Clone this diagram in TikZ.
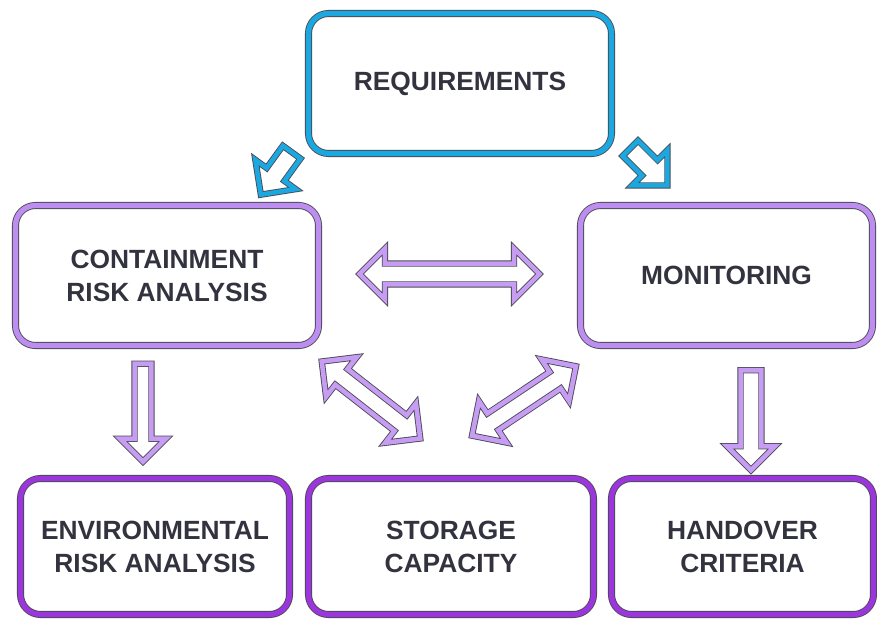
\documentclass[tikz,border=0pt]{standalone}
\usepackage{fontspec}
\setmainfont{Liberation Sans}
\usetikzlibrary{shapes.arrows}

\definecolor{reqblue}{HTML}{1BA8E0}
\definecolor{lilac}{HTML}{BD8DEF}
\definecolor{arrowlilac}{HTML}{C69DF2}
\definecolor{deepviolet}{HTML}{9B35DC}
\definecolor{rim}{HTML}{4A4A55}
\definecolor{ink}{HTML}{33333F}

\begin{document}
\begin{tikzpicture}[
    stage/.style={draw=rim, line width=0.5pt, double distance=3pt,
      rounded corners=0.4cm, align=center, text=ink,
      font=\bfseries\fontsize{15}{18.8}\selectfont},
    onearrow/.style={single arrow, draw=rim, line width=0.5pt,
      double=arrowlilac, double distance=2.6pt, inner xsep=0pt,
      inner ysep=0.2cm, single arrow head extend=0.28cm},
    twoarrow/.style={double arrow, draw=rim, line width=0.5pt,
      double=arrowlilac, double distance=2.6pt, inner xsep=0pt,
      inner ysep=0.2cm, double arrow head extend=0.3cm}
  ]
  \useasboundingbox (0,0) rectangle (17.54,12.38);

  % boxes
  \node[stage, double=reqblue, minimum width=6.06cm, minimum height=2.8cm]
    (req) at (9.2,10.71) {REQUIREMENTS};
  \node[stage, double=lilac, minimum width=6.06cm, minimum height=2.8cm]
    (cra) at (3.34,6.87) {CONTAINMENT\\RISK ANALYSIS};
  \node[stage, double=lilac, minimum width=5.84cm, minimum height=2.8cm]
    (mon) at (14.53,6.87) {MONITORING};
  \node[stage, double=deepviolet, minimum width=5.38cm, minimum height=2.72cm]
    (era) at (3.1,1.45) {ENVIRONMENTAL\\RISK ANALYSIS};
  \node[stage, double=deepviolet, minimum width=5.7cm, minimum height=2.72cm]
    (sto) at (9.02,1.45) {STORAGE\\CAPACITY};
  \node[stage, double=deepviolet, minimum width=5.24cm, minimum height=2.72cm]
    (hnd) at (14.85,1.45) {HANDOVER\\CRITERIA};

  % arrows
  \node[onearrow, double=reqblue, inner ysep=0.21cm, minimum height=1.05cm,
    rotate=-126] (reqcra) at (5.59,9.0) {};
  \node[onearrow, double=reqblue, inner ysep=0.21cm, minimum height=1.05cm,
    rotate=-45] (reqmon) at (12.9,9.12) {};
  \node[twoarrow, minimum height=3.6cm] (cramon) at (8.99,6.9) {};
  \node[twoarrow, inner ysep=0.19cm, minimum height=2.5cm, rotate=-38]
    (crasto) at (7.42,4.38) {};
  \node[twoarrow, inner ysep=0.19cm, minimum height=2.5cm, rotate=33.7]
    (monsto) at (10.48,4.36) {};
  \node[onearrow, inner ysep=0.16cm, single arrow head extend=0.29cm,
    minimum height=1.96cm, rotate=-90] (craera) at (2.86,4.21) {};
  \node[onearrow, inner ysep=0.2cm, single arrow head extend=0.27cm,
    minimum height=2cm, rotate=-90] (monhnd) at (15.02,4.08) {};
\end{tikzpicture}
\end{document}
